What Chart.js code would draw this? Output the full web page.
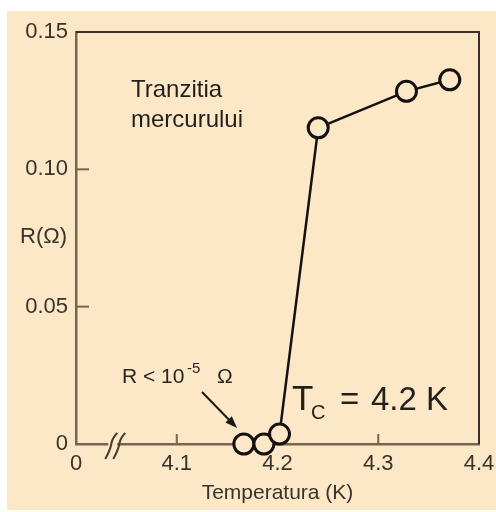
<!DOCTYPE html>
<html>
<head>
<meta charset="utf-8">
<script src="https://cdn.jsdelivr.net/npm/chart.js@4.4.0/dist/chart.umd.min.js"></script>
<style>
  html, body { margin: 0; padding: 0; background: #ffffff; }
  #wrap { width: 496px; height: 512px; }
</style>
</head>
<body>
<div id="wrap"><canvas id="c" width="496" height="512"></canvas></div>
<script>
// ---- data ----
const temperatures = [4.1666, 4.1865, 4.202, 4.2404, 4.328, 4.371];   // K
const resistances  = [0.0, 0.0, 0.0036, 0.1151, 0.1284, 0.1326];      // ohm
const xTickValues  = [4.0, 4.1, 4.2, 4.3, 4.4];
const xTickLabels  = ['0', '4.1', '4.2', '4.3', '4.4'];
const yTickValues  = [0, 0.05, 0.10, 0.15];
const yTickLabels  = ['0', '0.05', '0.10', '0.15'];

const BG = '#fce7c7';
const AXIS = '#76654f';
const FRAME = '#3b2f28';
const FONT = "'Liberation Sans', Arial, Helvetica, sans-serif";

const points = temperatures.map((t, i) => ({ x: t, y: resistances[i] }));

const decor = {
  id: 'decor',
  beforeDraw(chart) {
    const ctx = chart.ctx;
    ctx.save();
    ctx.fillStyle = '#ffffff';
    ctx.fillRect(0, 0, chart.width, chart.height);
    ctx.fillStyle = BG;
    ctx.fillRect(7, 11, chart.width - 7, chart.height - 13);
    ctx.restore();
  },
  beforeDatasetsDraw(chart) {
    const ctx = chart.ctx;
    const a = chart.chartArea;
    const xs = chart.scales.x, ys = chart.scales.y;
    ctx.save();
    // frame: top and right
    ctx.strokeStyle = FRAME;
    ctx.lineWidth = 2;
    ctx.beginPath();
    ctx.moveTo(a.left, a.top); ctx.lineTo(a.right, a.top); ctx.lineTo(a.right, a.bottom);
    ctx.stroke();
    // inward ticks
    ctx.strokeStyle = AXIS;
    ctx.lineWidth = 2;
    xTickValues.slice(1, -1).forEach(v => {
      const px = xs.getPixelForValue(v);
      ctx.beginPath(); ctx.moveTo(px, a.bottom); ctx.lineTo(px, a.bottom - 10); ctx.stroke();
    });
    yTickValues.slice(1, -1).forEach(v => {
      const py = ys.getPixelForValue(v);
      ctx.beginPath(); ctx.moveTo(a.left, py); ctx.lineTo(a.left + 13, py); ctx.stroke();
    });
    // axis break marks
    const bx = xs.getPixelForValue(4.035);
    const by = a.bottom;
    ctx.fillStyle = BG;
    ctx.fillRect(bx - 3, by - 3, 9, 6);
    ctx.strokeStyle = '#4a3d30';
    ctx.lineWidth = 2;
    [0, 8].forEach(dx => {
      const x0 = bx + dx;
      ctx.beginPath();
      ctx.moveTo(x0 - 6, by + 15);
      ctx.quadraticCurveTo(x0 - 1, by + 6, x0, by);
      ctx.quadraticCurveTo(x0 + 1, by - 6, x0 + 6, by - 11);
      ctx.stroke();
    });
    ctx.restore();
  },
  afterDatasetsDraw(chart) {
    const ctx = chart.ctx;
    ctx.save();
    ctx.fillStyle = '#231f1c';
    ctx.textBaseline = 'alphabetic';
    ctx.textAlign = 'left';
    // y axis title (horizontal)
    ctx.font = '22px ' + FONT;
    ctx.fillStyle = '#3a332d';
    ctx.fillText('R(\u03A9)', 20, 243);
    // label
    ctx.fillStyle = '#231f1c';
    ctx.font = '24px ' + FONT;
    ctx.fillText('Tranzitia', 131, 97);
    ctx.fillText('mercurului', 131, 127);
    // Tc
    ctx.font = '35px ' + FONT;
    ctx.fillText('T', 292, 410);
    ctx.font = '20px ' + FONT;
    ctx.fillText('C', 311, 419);
    ctx.font = '33px ' + FONT;
    ctx.fillText('=', 340, 410);
    ctx.fillText('4.2 K', 371, 410);
    // R < 10^-5 ohm
    ctx.fillStyle = '#2a2522';
    ctx.font = '21px ' + FONT;
    ctx.fillText('R < 10', 122, 383);
    ctx.font = '15px ' + FONT;
    ctx.fillText('-5', 187, 373);
    ctx.font = '21px ' + FONT;
    ctx.fillText('\u03A9', 217, 383);
    // arrow
    ctx.strokeStyle = '#1a1816';
    ctx.fillStyle = '#1a1816';
    ctx.lineWidth = 2;
    const x1 = 202, y1 = 392, x2 = 237, y2 = 428;
    const ang = Math.atan2(y2 - y1, x2 - x1);
    ctx.beginPath(); ctx.moveTo(x1, y1); ctx.lineTo(x2 - 8 * Math.cos(ang), y2 - 8 * Math.sin(ang)); ctx.stroke();
    ctx.beginPath();
    ctx.moveTo(x2, y2);
    ctx.lineTo(x2 - 12 * Math.cos(ang) + 4.5 * Math.sin(ang), y2 - 12 * Math.sin(ang) - 4.5 * Math.cos(ang));
    ctx.lineTo(x2 - 12 * Math.cos(ang) - 4.5 * Math.sin(ang), y2 - 12 * Math.sin(ang) + 4.5 * Math.cos(ang));
    ctx.closePath(); ctx.fill();
    ctx.restore();
  }
};

new Chart(document.getElementById('c'), {
  type: 'scatter',
  data: {
    datasets: [{
      data: points,
      showLine: true,
      borderColor: '#141210',
      borderWidth: 2.5,
      pointRadius: 10,
      pointHoverRadius: 10,
      pointBorderWidth: 3,
      pointBackgroundColor: BG,
      pointBorderColor: '#141210',
      clip: false,
      tension: 0
    }]
  },
  options: {
    responsive: false,
    animation: false,
    devicePixelRatio: 1,
    layout: { padding: { top: 32, right: 17, left: 0, bottom: 0 } },
    plugins: { legend: { display: false }, tooltip: { enabled: false } },
    scales: {
      x: {
        type: 'linear', min: 4.0, max: 4.4,
        afterFit(s) { s.height = 68; s.paddingRight = 0; s.paddingLeft = 0; },
        afterBuildTicks(s) { s.ticks = xTickValues.map(v => ({ value: v })); },
        ticks: {
          padding: 7,
          color: '#3a332d',
          font: { family: FONT, size: 22 },
          callback: (v) => { const i = xTickValues.findIndex(t => Math.abs(t - v) < 1e-9); return i >= 0 ? xTickLabels[i] : ''; }
        },
        grid: { display: false, drawTicks: false },
        border: { display: true, color: AXIS, width: 2.5 },
        title: { display: true, text: 'Temperatura (K)', color: '#3a332d', font: { family: FONT, size: 21 }, padding: { top: 0, bottom: 6 } }
      },
      y: {
        type: 'linear', min: 0, max: 0.15,
        afterFit(s) { s.width = 76; },
        afterBuildTicks(s) { s.ticks = yTickValues.map(v => ({ value: v })); },
        ticks: {
          padding: 8,
          color: '#3a332d',
          font: { family: FONT, size: 22 },
          callback: (v) => { const i = yTickValues.findIndex(t => Math.abs(t - v) < 1e-9); return i >= 0 ? yTickLabels[i] : ''; }
        },
        grid: { display: false, drawTicks: false },
        border: { display: true, color: AXIS, width: 2.5 }
      }
    }
  },
  plugins: [decor]
});
</script>
</body>
</html>
